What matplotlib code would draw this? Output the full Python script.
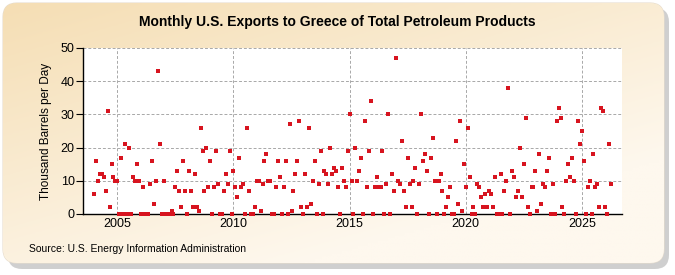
import numpy as np
import matplotlib
matplotlib.use("Agg")
import matplotlib.pyplot as plt
from matplotlib.patches import FancyBboxPatch

plt.rcParams["font.family"] = ["Liberation Sans", "DejaVu Sans"]

title = "Monthly U.S. Exports to Greece of Total Petroleum Products"
ylabel = "Thousand Barrels per Day"
source = "Source: U.S. Energy Information Administration"

start_year = 2004  # first value is January 2004, one value per month

values_2004_2007 = [6, 16, 10, 12, 12, 11, 7, 31, 2, 15, 11, 10,
                    10, 0, 17, 0, 21, 0, 20, 0, 11, 10, 15, 10,
                    0, 8, 0, 0, 0, 9, 16, 3, 10, 43, 21, 0,
                    10, 0, 0, 0, 1, 0, 8, 13, 7, 2, 16, 7]
values_2008_2011 = [0, 13, 7, 2, 12, 2, 1, 26, 19, 7, 20, 8,
                    16, 0, 8, 19, 9, 0, 0, 7, 12, 9, 19, 0,
                    13, 8, 5, 17, 8, 9, 0, 26, 7, 0, 0, 2,
                    10, 10, 1, 9, 16, 18, 10, 10, 0, 0, 8, 16]
values_2012_2015 = [11, 0, 8, 16, 0, 27, 1, 7, 12, 16, 28, 2,
                    0, 12, 2, 26, 3, 10, 16, 0, 9, 19, 0, 13,
                    12, 9, 20, 12, 14, 13, 8, 0, 14, 10, 8, 19,
                    30, 10, 0, 20, 10, 13, 17, 0, 28, 8, 19, 34]
values_2016_2019 = [0, 8, 11, 8, 8, 19, 0, 9, 30, 0, 12, 7,
                    47, 10, 9, 22, 7, 2, 17, 9, 2, 10, 14, 0,
                    9, 30, 16, 18, 13, 0, 17, 23, 10, 0, 10, 12,
                    7, 0, 2, 5, 8, 0, 0, 22, 3, 28, 1, 15]
values_2020_2023 = [8, 26, 11, 0, 2, 0, 9, 8, 5, 2, 6, 2,
                    7, 6, 2, 11, 0, 0, 12, 0, 7, 10, 38, 0,
                    13, 11, 5, 7, 20, 5, 15, 29, 2, 0, 8, 8,
                    13, 1, 18, 3, 9, 8, 13, 17, 0, 9, 0, 28]
values_2024_2026 = [32, 29, 2, 0, 10, 15, 11, 17, 10, 0, 28, 21,
                    25, 16, 0, 8, 10, 0, 18, 8, 9, 2, 32, 31,
                    2, 0, 21, 9]

values = (values_2004_2007 + values_2008_2011 + values_2012_2015
          + values_2016_2019 + values_2020_2023 + values_2024_2026)
dates = start_year + np.arange(len(values)) / 12.0

xticks = [2005, 2010, 2015, 2020, 2025]
yticks = [0, 10, 20, 30, 40, 50]

W, H = 675, 275
fig = plt.figure(figsize=(W / 100, H / 100), dpi=100)
fig.patch.set_facecolor("white")

# background frame: shadow + rounded box with tan gradient
bg = fig.add_axes([0, 0, 1, 1])
bg.set_xlim(0, W)
bg.set_ylim(H, 0)
bg.axis("off")
shadow = FancyBboxPatch((8, 8), W - 14, H - 14,
                        boxstyle="round,pad=0,rounding_size=14",
                        facecolor="#b0b0b0", edgecolor="none", alpha=0.6)
bg.add_patch(shadow)
box = FancyBboxPatch((3, 3), W - 14, H - 15,
                     boxstyle="round,pad=0,rounding_size=14",
                     facecolor="none", edgecolor="#e6dccd", linewidth=0.8)
bg.add_patch(box)
gx = np.linspace(0, 1, 200)
gy = np.linspace(0, 1, 100)
GX, GY = np.meshgrid(gx, gy)
t = np.clip(0.55 * GX + 0.75 * GY, 0, 1)
tan = np.array([245, 222, 180]) / 255.0
cream = np.array([254, 248, 238]) / 255.0
img = tan[None, None, :] * (1 - t[..., None]) + cream[None, None, :] * t[..., None]
im = bg.imshow(img, extent=[3, W - 11, H - 12, 3], aspect="auto", zorder=1)
im.set_clip_path(box)

ax = fig.add_axes([83 / W, 1 - 214 / H, (622 - 83) / W, (214 - 48) / H])
ax.set_facecolor("white")
ax.plot(dates, values, linestyle="none", marker="s", markersize=3.0,
        markeredgewidth=0, color="#d7141f", zorder=3, clip_on=False)

ax.set_xlim(2003.52, 2026.73)
ax.set_ylim(0, 50)
ax.set_xticks(xticks)
ax.set_yticks(yticks)
ax.grid(True, color="#a8a8a8", linestyle=(0, (3, 2)), linewidth=0.7)
ax.set_axisbelow(True)
for s in ["top", "right"]:
    ax.spines[s].set_visible(False)
ax.spines["left"].set_linewidth(1.0)
ax.spines["bottom"].set_linewidth(1.0)
ax.tick_params(axis="y", length=5, width=0.8, labelsize=9, pad=1)
ax.tick_params(axis="x", length=0, labelsize=9, pad=3)
ax.set_ylabel(ylabel, fontsize=8.5, labelpad=6)

fig.text(0.5, 1 - 22 / H, title, ha="center", va="center",
         fontsize=10, fontweight="bold")
fig.text(29 / W, 1 - 249 / H, source, ha="left", va="center", fontsize=7.5)

fig.savefig("out.png", dpi=100)
